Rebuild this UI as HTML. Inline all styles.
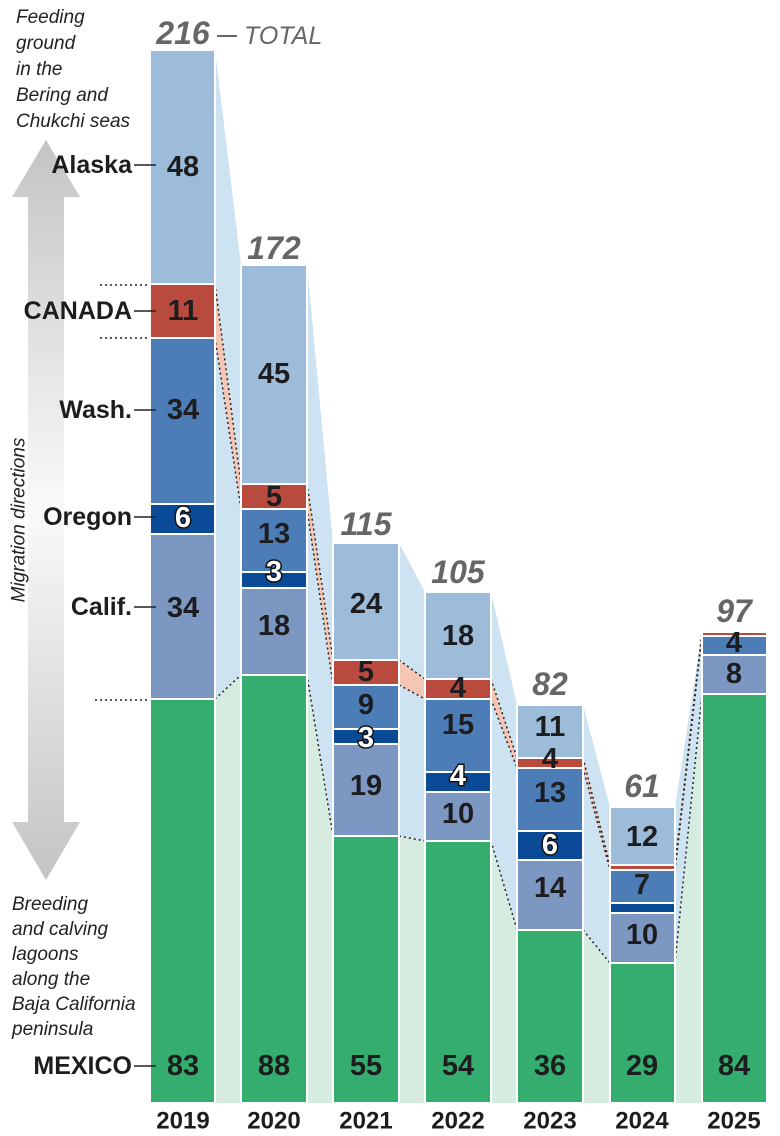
<!DOCTYPE html>
<html><head><meta charset="utf-8"><style>
html,body{margin:0;padding:0;background:#fff;}
svg{display:block;}
.n{font-family:"Liberation Sans Narrow","Liberation Sans",sans-serif;font-weight:bold;font-size:29px;fill:#1d1d1f;text-anchor:middle;dominant-baseline:central;}
.w{fill:#fff;stroke:#111;stroke-width:3px;paint-order:stroke;}
.t{font-family:"Liberation Sans Narrow","Liberation Sans",sans-serif;font-weight:bold;font-style:italic;font-size:32px;fill:#666;text-anchor:middle;dominant-baseline:central;}
.l{font-family:"Liberation Sans Narrow","Liberation Sans",sans-serif;font-weight:bold;font-size:25px;fill:#1d1d1f;text-anchor:end;dominant-baseline:central;}
.i{font-family:"Liberation Sans",sans-serif;font-style:italic;font-size:19px;fill:#222;}
.y{font-family:"Liberation Sans Narrow","Liberation Sans",sans-serif;font-weight:bold;font-size:24px;fill:#1d1d1f;text-anchor:middle;dominant-baseline:central;}
</style></head><body>
<svg width="780" height="1136" viewBox="0 0 780 1136" xmlns="http://www.w3.org/2000/svg">
<defs>
<linearGradient id="ag" x1="0" y1="0" x2="0" y2="1">
<stop offset="0" stop-color="#c4c4c4"/><stop offset="0.5" stop-color="#fafafa"/><stop offset="1" stop-color="#c4c4c4"/>
</linearGradient>
</defs>
<!-- connectors -->
<g>
<polygon fill="#cde3f1" points="215,50 241,265 241,675 215,699"/>
<polygon fill="#f5c6b4" points="215,284 241,484 241,509 215,338"/>
<polygon fill="#d6ece0" points="215,699 241,675 241,1103 215,1103"/>
<polygon fill="#cde3f1" points="307,265 333,543 333,836 307,675"/>
<polygon fill="#f5c6b4" points="307,484 333,660 333,685 307,509"/>
<polygon fill="#d6ece0" points="307,675 333,836 333,1103 307,1103"/>
<polygon fill="#cde3f1" points="399,543 425,592 425,841 399,836"/>
<polygon fill="#f5c6b4" points="399,660 425,679 425,699 399,685"/>
<polygon fill="#d6ece0" points="399,836 425,841 425,1103 399,1103"/>
<polygon fill="#cde3f1" points="491,592 517,705 517,930 491,841"/>
<polygon fill="#f5c6b4" points="491,679 517,758 517,768 491,699"/>
<polygon fill="#d6ece0" points="491,841 517,930 517,1103 491,1103"/>
<polygon fill="#cde3f1" points="583,705 610,807 610,963 583,930"/>
<polygon fill="#f5c6b4" points="583,758 610,865 610,870 583,768"/>
<polygon fill="#d6ece0" points="583,930 610,963 610,1103 583,1103"/>
<polygon fill="#cde3f1" points="675,807 702,632 702,694 675,963"/>
<polygon fill="#f5c6b4" points="675,865 702,632 702,636 675,870"/>
<polygon fill="#d6ece0" points="675,963 702,694 702,1103 675,1103"/>
</g>
<g stroke="#222" stroke-width="1.5" stroke-dasharray="2,3" fill="none">
<line x1="215" y1="284" x2="241" y2="484"/><line x1="215" y1="338" x2="241" y2="509"/><line x1="215" y1="699" x2="241" y2="675"/>
<line x1="307" y1="484" x2="333" y2="660"/><line x1="307" y1="509" x2="333" y2="685"/><line x1="307" y1="675" x2="333" y2="836"/>
<line x1="399" y1="660" x2="425" y2="679"/><line x1="399" y1="685" x2="425" y2="699"/><line x1="399" y1="836" x2="425" y2="841"/>
<line x1="491" y1="679" x2="517" y2="758"/><line x1="491" y1="699" x2="517" y2="768"/><line x1="491" y1="841" x2="517" y2="930"/>
<line x1="583" y1="758" x2="610" y2="865"/><line x1="583" y1="768" x2="610" y2="870"/><line x1="583" y1="930" x2="610" y2="963"/>
<line x1="675" y1="865" x2="702" y2="632"/><line x1="675" y1="870" x2="702" y2="636"/><line x1="675" y1="963" x2="702" y2="694"/>
<line x1="100" y1="285" x2="148" y2="285"/><line x1="100" y1="338" x2="148" y2="338"/><line x1="95" y1="700" x2="148" y2="700"/>
</g>
<!-- bars -->
<g stroke="#fff" stroke-width="2">
<rect x="150" y="50" width="65" height="234" fill="#9dbcd9"/>
<rect x="150" y="284" width="65" height="54" fill="#b94a3e"/>
<rect x="150" y="338" width="65" height="166" fill="#4c7db7"/>
<rect x="150" y="504" width="65" height="30" fill="#0b4a96"/>
<rect x="150" y="534" width="65" height="165" fill="#7b97c2"/>
<rect x="150" y="699" width="65" height="404" fill="#35ad6f"/>

<rect x="241" y="265" width="66" height="219" fill="#9dbcd9"/>
<rect x="241" y="484" width="66" height="25" fill="#b94a3e"/>
<rect x="241" y="509" width="66" height="63" fill="#4c7db7"/>
<rect x="241" y="572" width="66" height="16" fill="#0b4a96"/>
<rect x="241" y="588" width="66" height="87" fill="#7b97c2"/>
<rect x="241" y="675" width="66" height="428" fill="#35ad6f"/>

<rect x="333" y="543" width="66" height="117" fill="#9dbcd9"/>
<rect x="333" y="660" width="66" height="25" fill="#b94a3e"/>
<rect x="333" y="685" width="66" height="44" fill="#4c7db7"/>
<rect x="333" y="729" width="66" height="15" fill="#0b4a96"/>
<rect x="333" y="744" width="66" height="92" fill="#7b97c2"/>
<rect x="333" y="836" width="66" height="267" fill="#35ad6f"/>

<rect x="425" y="592" width="66" height="87" fill="#9dbcd9"/>
<rect x="425" y="679" width="66" height="20" fill="#b94a3e"/>
<rect x="425" y="699" width="66" height="73" fill="#4c7db7"/>
<rect x="425" y="772" width="66" height="20" fill="#0b4a96"/>
<rect x="425" y="792" width="66" height="49" fill="#7b97c2"/>
<rect x="425" y="841" width="66" height="262" fill="#35ad6f"/>

<rect x="517" y="705" width="66" height="53" fill="#9dbcd9"/>
<rect x="517" y="758" width="66" height="10" fill="#b94a3e"/>
<rect x="517" y="768" width="66" height="63" fill="#4c7db7"/>
<rect x="517" y="831" width="66" height="29" fill="#0b4a96"/>
<rect x="517" y="860" width="66" height="70" fill="#7b97c2"/>
<rect x="517" y="930" width="66" height="173" fill="#35ad6f"/>

<rect x="610" y="807" width="65" height="58" fill="#9dbcd9"/>
<rect x="610" y="865" width="65" height="5" fill="#b94a3e"/>
<rect x="610" y="870" width="65" height="33" fill="#4c7db7"/>
<rect x="610" y="903" width="65" height="10" fill="#0b4a96"/>
<rect x="610" y="913" width="65" height="50" fill="#7b97c2"/>
<rect x="610" y="963" width="65" height="140" fill="#35ad6f"/>

<rect x="702" y="632" width="65" height="4" fill="#b94a3e"/>
<rect x="702" y="636" width="65" height="19" fill="#4c7db7"/>
<rect x="702" y="655" width="65" height="39" fill="#7b97c2"/>
<rect x="702" y="694" width="65" height="409" fill="#35ad6f"/>
</g>
<!-- segment labels -->
<g class="n">
<text class="n" x="183" y="167">48</text><text class="n" x="183" y="311">11</text><text class="n" x="183" y="410">34</text><text class="n w" x="183" y="518">6</text><text class="n" x="183" y="608">34</text><text class="n" x="183" y="1066">83</text>
<text class="n" x="274" y="374">45</text><text class="n" x="274" y="497">5</text><text class="n" x="274" y="534">13</text><text class="n w" x="274" y="572">3</text><text class="n" x="274" y="626">18</text><text class="n" x="274" y="1066">88</text>
<text class="n" x="366" y="604">24</text><text class="n" x="366" y="672">5</text><text class="n" x="366" y="705">9</text><text class="n w" x="366" y="738">3</text><text class="n" x="366" y="786">19</text><text class="n" x="366" y="1066">55</text>
<text class="n" x="458" y="636">18</text><text class="n" x="458" y="688">4</text><text class="n" x="458" y="725">15</text><text class="n w" x="458" y="776">4</text><text class="n" x="458" y="814">10</text><text class="n" x="458" y="1066">54</text>
<text class="n" x="550" y="727">11</text><text class="n" x="550" y="759">4</text><text class="n" x="550" y="793">13</text><text class="n w" x="550" y="845">6</text><text class="n" x="550" y="888">14</text><text class="n" x="550" y="1066">36</text>
<text class="n" x="642" y="837">12</text><text class="n" x="642" y="885">7</text><text class="n" x="642" y="935">10</text><text class="n" x="642" y="1066">29</text>
<text class="n" x="734" y="643">4</text><text class="n" x="734" y="674">8</text><text class="n" x="734" y="1066">84</text>
</g>
<!-- totals -->
<text class="t" x="183" y="33">216</text>
<line x1="217" y1="36" x2="237" y2="36" stroke="#666" stroke-width="2"/>
<text class="t" x="244" y="36" style="text-anchor:start;font-size:25px;font-weight:normal">TOTAL</text>
<text class="t" x="274" y="248">172</text>
<text class="t" x="366" y="524">115</text>
<text class="t" x="458" y="572">105</text>
<text class="t" x="550" y="684">82</text>
<text class="t" x="642" y="786">61</text>
<text class="t" x="734" y="611">97</text>
<!-- arrow -->
<polygon fill="url(#ag)" points="46,140 80,197 64,197 64,822 80,822 46,880 12,822 28,822 28,197 12,197"/>
<text class="i" transform="translate(19,520) rotate(-90)" text-anchor="middle" dominant-baseline="central">Migration directions</text>
<!-- left labels -->
<g stroke="#222" stroke-width="1.5">
<line x1="134" y1="165" x2="156" y2="165"/><line x1="134" y1="311" x2="156" y2="311"/><line x1="134" y1="410" x2="156" y2="410"/><line x1="134" y1="517" x2="156" y2="517"/><line x1="134" y1="607" x2="156" y2="607"/><line x1="134" y1="1066" x2="156" y2="1066"/>
</g>
<text class="l" x="132" y="165">Alaska</text>
<text class="l" x="132" y="311">CANADA</text>
<text class="l" x="132" y="410">Wash.</text>
<text class="l" x="132" y="517">Oregon</text>
<text class="l" x="132" y="607">Calif.</text>
<text class="l" x="132" y="1066">MEXICO</text>
<text class="i" x="16" y="23">Feeding</text>
<text class="i" x="16" y="49">ground</text>
<text class="i" x="16" y="75">in the</text>
<text class="i" x="16" y="101">Bering and</text>
<text class="i" x="16" y="127">Chukchi seas</text>
<text class="i" x="12" y="910">Breeding</text>
<text class="i" x="12" y="935">and calving</text>
<text class="i" x="12" y="960">lagoons</text>
<text class="i" x="12" y="985">along the</text>
<text class="i" x="12" y="1010">Baja California</text>
<text class="i" x="12" y="1035">peninsula</text>
<!-- years -->
<text class="y" x="183" y="1121">2019</text>
<text class="y" x="274" y="1121">2020</text>
<text class="y" x="366" y="1121">2021</text>
<text class="y" x="458" y="1121">2022</text>
<text class="y" x="550" y="1121">2023</text>
<text class="y" x="642" y="1121">2024</text>
<text class="y" x="734" y="1121">2025</text>
</svg>
</body></html>
